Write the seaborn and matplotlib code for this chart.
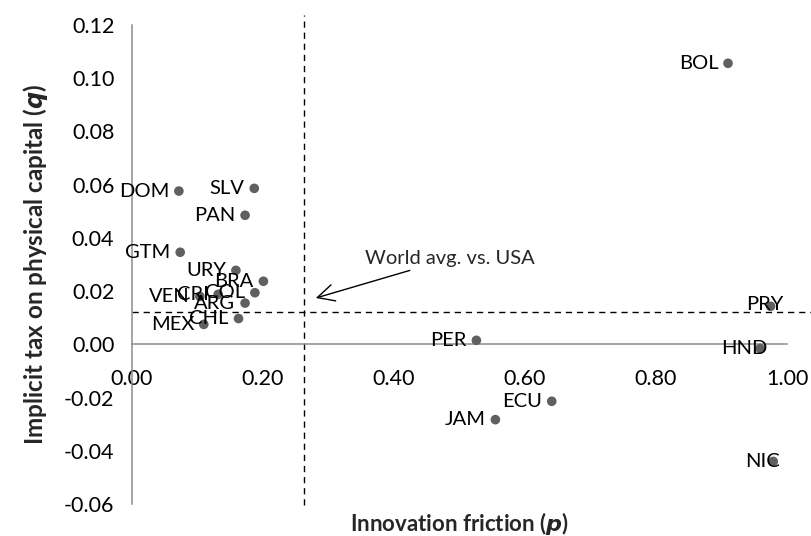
import matplotlib
matplotlib.use("Agg")
import matplotlib.pyplot as plt
import seaborn as sns
import pandas as pd

# Country codes with innovation friction (p) and implicit tax on physical capital (q)
countries = ["BOL", "DOM", "SLV", "PAN", "GTM", "URY", "BRA", "COL", "CRI", "VEN",
             "ARG", "CHL", "MEX", "PER", "PRY", "HND", "ECU", "JAM", "NIC"]
friction_p = [0.910, 0.072, 0.187, 0.173, 0.074, 0.159, 0.201, 0.188, 0.132, 0.104,
              0.173, 0.163, 0.110, 0.526, 0.975, 0.959, 0.641, 0.555, 0.979]
tax_q = [0.1056, 0.0576, 0.0586, 0.0485, 0.0346, 0.0278, 0.0237, 0.0194, 0.0188, 0.0180,
         0.0155, 0.0097, 0.0075, 0.0015, 0.0143, -0.0016, -0.0214, -0.0283, -0.0440]

# Reference point: world average relative to the USA
world_p = 0.263
world_q = 0.012

x_ticks = [0.0, 0.2, 0.4, 0.6, 0.8, 1.0]
y_ticks = [-0.06, -0.04, -0.02, 0.00, 0.02, 0.04, 0.06, 0.08, 0.10, 0.12]

df = pd.DataFrame({"country": countries, "p": friction_p, "q": tax_q})

sns.set_style("white")
plt.rcParams["font.family"] = ["Lato", "DejaVu Sans"]

fig = plt.figure(figsize=(8.12, 5.36), dpi=100)
ax = fig.add_axes([0.1622, 0.0597, 0.807, 0.8937])

sns.scatterplot(data=df, x="p", y="q", ax=ax, color="#606060", s=48,
                edgecolor="none", zorder=3)

axis_grey = "#8c8c8c"
ax.set_xlim(0, 1.0)
ax.set_ylim(-0.06, 0.12)
ax.set_xticks(x_ticks)
ax.set_yticks(y_ticks)
ax.set_xticklabels([f"{v:.2f}" for v in x_ticks])
ax.set_yticklabels([f"{v:.2f}" for v in y_ticks])

for side in ("top", "right"):
    ax.spines[side].set_visible(False)
ax.spines["bottom"].set_position(("data", 0))
for side in ("left", "bottom"):
    ax.spines[side].set_color(axis_grey)
    ax.spines[side].set_linewidth(1.1)

ax.tick_params(axis="both", direction="out", color=axis_grey, width=1.1,
               length=6.5, labelsize=15.5, labelcolor="black")
ax.tick_params(axis="x", pad=11)
ax.tick_params(axis="y", pad=6)

ax.set_xlabel("Innovation friction ($\\boldsymbol{p}$)", fontsize=16,
              fontweight="bold", va="top")
ax.xaxis.set_label_coords(0.5, -0.012)
ax.set_ylabel("Implicit tax on physical capital ($\\boldsymbol{q}$)", fontsize=17.5,
              fontweight="bold")
ax.yaxis.set_label_coords(-0.125, 0.5)

# Dashed cross-hairs at the world average
ax.axvline(world_p, ymin=-0.002, ymax=1.021, color="black", lw=1.0,
           dashes=(4.5, 3.5), clip_on=False, zorder=2)
ax.axhline(world_q, xmin=0, xmax=1.04, color="black", lw=1.0,
           dashes=(4.5, 3.5), clip_on=False, zorder=2)

# Country labels sit to the left of their markers
label_shift = {"HND": (5, 0), "PRY": (9, 1.5), "NIC": (5, 0)}
for name, px, qy in zip(countries, friction_p, tax_q):
    dx, dy = label_shift.get(name, (-7, 0))
    ax.annotate(name, (px, qy), xytext=(dx, dy), textcoords="offset points",
                ha="right", va="center", fontsize=14.5, color="black", zorder=4)

ax.annotate("World avg. vs. USA", xy=(world_p + 0.018, 0.0174),
            xytext=(0.356, 0.0322), textcoords="data",
            ha="left", va="center", fontsize=14.5,
            arrowprops=dict(arrowstyle="->", color="black", lw=1.0,
                            mutation_scale=30, shrinkA=0, shrinkB=0))

fig.savefig("out.png", dpi=100)
